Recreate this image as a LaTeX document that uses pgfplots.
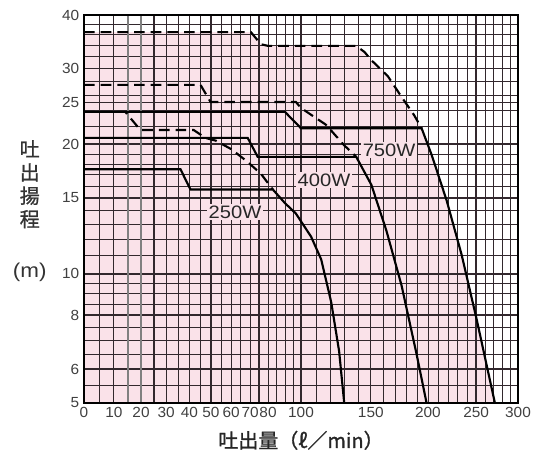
\documentclass[border=0pt]{standalone}
\usepackage{fontspec}
\setmainfont{Liberation Sans}[FakeStretch=1.05]
\newfontfamily\cjk{Noto Sans CJK JP}[FakeBold=1]
\newfontfamily\lbl{Liberation Sans}[FakeStretch=1.12]
\usepackage{pgfplots}
\pgfplotsset{compat=1.18}
\definecolor{pinkfill}{RGB}{250,226,233}
\definecolor{gridc}{RGB}{50,40,45}

\begin{document}
\begin{tikzpicture}
\begin{axis}[
  set layers, clip=false,
  scale only axis, width=325.5pt, height=291pt,
  xmin=0, xmax=300, ymin=5, ymax=40,
  ymode=log,
  x coord trafo/.code={\pgfmathparse{ln(#1+100)}},
  x coord inv trafo/.code={\pgfmathparse{exp(#1)-100}},
  xtick={0,10,20,30,40,50,60,70,80,100,150,200,250,300},
  xticklabels={0,10,20,30,40,50,60,70,80,100,150,200,250,300},
  minor xtick={5,15,25,35,45,55,65,75,85,90,95,110,120,130,140,160,170,180,190,210,220,230,240,260,270,280,290},
  ytick={5,6,8,10,15,20,25,30,40},
  yticklabels={5,6,8,10,15,20,25,30,40},
  minor ytick={5.5,6.5,7,7.5,8.5,9,9.5,11,12,13,14,16,17,18,19,22,24,26,28,32,34,36,38},
  extra x ticks={25,50,75,100,250},
  extra x tick labels={},
  extra y ticks={6,8,10,15,20},
  extra y tick labels={},
  extra tick style={grid=major, major grid style={gridc, line width=1.6pt}},
  grid=both,
  major grid style={gridc, line width=0.65pt},
  minor grid style={gridc, line width=0.6pt},
  major tick length=0pt, minor tick length=0pt,
  axis line style={black, line width=1.6pt},
  tick label style={font=\fontsize{11}{12}\selectfont, text=black!75},
  xlabel={\cjk 吐出量（ℓ／min）},
  x label style={at={(axis description cs:0.5,0)}, anchor=center, yshift=-28pt,
    font=\fontsize{15}{17}\selectfont, text=black!85},
]
% usage range (pink)
\addplot[on layer=axis background, fill=pinkfill, draw=none] coordinates {
  (0,5) (0,36.5) (70.4,36.5) (76,34.2) (80,33.9) (138.6,33.9) (145,32.8)
  (150.4,31.4) (164,28.8) (175.7,25.8) (187,23.4) (194,21.8) (203.6,18.9)
  (218.5,14.8) (234.2,11.05) (250.7,7.8) (271.6,5)};

\begin{pgfonlayer}{axis grid}
\draw[black!50, line width=1.8pt] (axis cs:15,5) -- (axis cs:15,40);
\draw[black!50, line width=1.8pt] (axis cs:20,5) -- (axis cs:20,40);
\end{pgfonlayer}

% 750W
\addplot[black, line width=1.6pt, dash pattern=on 8pt off 4.5pt] coordinates {
  (0,36.5) (70.4,36.5) (76,34.2) (80,33.9) (138.6,33.9) (145,32.8)
  (150.4,31.4) (164,28.8) (175.7,25.8) (187,23.4) (194,21.8)};
\addplot[black, line width=1.6pt] coordinates {
  (0,23.8) (90,23.8) (100,21.8) (192,21.8) (194,21.8) (203.6,18.9)
  (218.5,14.8) (234.2,11.05) (250.7,7.8) (271.6,5)};

% 400W
\addplot[black, line width=1.6pt, dash pattern=on 8pt off 4.5pt] coordinates {
  (0,27.5) (45.1,27.5) (49.8,25.1) (96.8,25.1) (100,24.3) (116.7,22.2)
  (129.6,19.9) (138.6,18.7)};
\addplot[black, line width=1.6pt] coordinates {
  (0,20.7) (68.7,20.7) (74.2,18.7) (138.6,18.7) (150.4,16.1) (162.7,12.6)
  (175.7,9.4) (189.3,6.5) (198.7,5)};

% 250W
\addplot[black, line width=1.6pt, dash pattern=on 8pt off 4.5pt] coordinates {
  (0,23.8) (14.1,23.8) (19.7,21.6) (41.9,21.6) (47.4,20.7) (52.3,20.4)
  (60,19.5) (68,18.3) (75.9,17.1) (82.8,15.7)};
\addplot[black, line width=1.6pt] coordinates {
  (0,17.5) (36.1,17.5) (40.5,15.7) (82.8,15.7) (90,14.6) (96.8,13.8)
  (106.5,12.2) (113.3,10.8) (120.2,8.6) (125.9,6.6) (129.6,5)};

\node[fill=pinkfill, inner sep=1pt, font=\fontsize{13.5}{15}\selectfont\lbl, text=black!85]
  at (rel axis cs:0.348,0.492) {250W};
\node[fill=pinkfill, inner sep=1pt, font=\fontsize{13.5}{15}\selectfont\lbl, text=black!85]
  at (rel axis cs:0.553,0.575) {400W};
\node[fill=pinkfill, inner sep=1pt, font=\fontsize{13.5}{15}\selectfont\lbl, text=black!85]
  at (rel axis cs:0.703,0.652) {750W};

\node[align=center, font=\fontsize{15}{17.5}\selectfont\cjk, text=black!80]
  at (rel axis cs:-0.125,0.564) {吐\\出\\揚\\程};
\node[font=\fontsize{15}{17}\selectfont\lbl, text=black!80]
  at (rel axis cs:-0.125,0.338) {(m)};
\end{axis}
\pgfresetboundingbox
\path ([xshift=-63pt,yshift=-38.25pt]current axis.south west)
  rectangle ([xshift=16.5pt,yshift=11.25pt]current axis.north east);
\end{tikzpicture}
\end{document}
